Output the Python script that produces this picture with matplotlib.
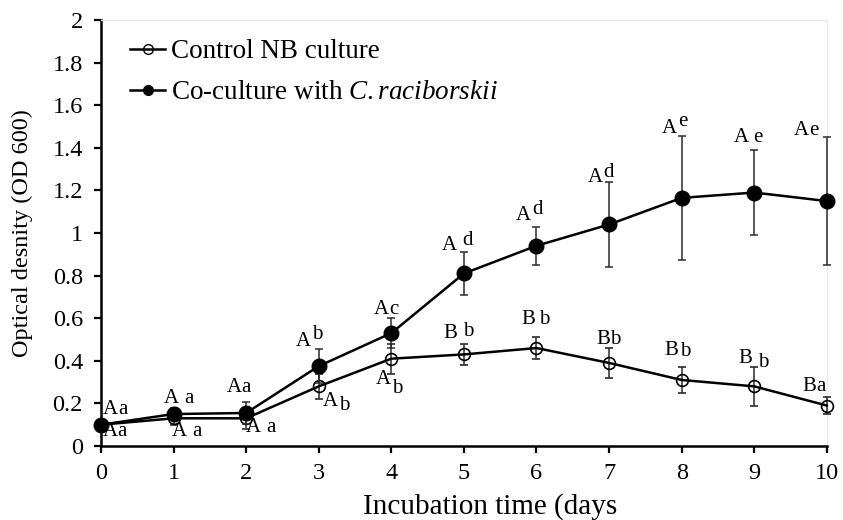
import matplotlib.pyplot as plt
from matplotlib.lines import Line2D
import numpy as np

plt.rcParams['font.family'] = ['Liberation Serif', 'DejaVu Serif']
plt.rcParams['mathtext.fontset'] = 'custom'
plt.rcParams['mathtext.rm'] = 'Liberation Serif'
plt.rcParams['mathtext.it'] = 'Liberation Serif:italic'

days = [0, 1, 2, 3, 4, 5, 6, 7, 8, 9, 10]

control_od = [0.10, 0.13, 0.13, 0.28, 0.41, 0.43, 0.46, 0.39, 0.31, 0.28, 0.19]
control_err = [0.02, 0.03, 0.05, 0.06, 0.07, 0.05, 0.05, 0.07, 0.06, 0.09, 0.04]

cocult_od = [0.10, 0.15, 0.155, 0.375, 0.53, 0.81, 0.94, 1.04, 1.165, 1.19, 1.15]
cocult_err = [0.01, 0.03, 0.05, 0.08, 0.07, 0.10, 0.09, 0.20, 0.29, 0.20, 0.30]

# significance letters: capital + lowercase
cocult_caps = ['A', 'A', 'A', 'A', 'A', 'A', 'A', 'A', 'A', 'A', 'A']
cocult_small = ['a', 'a', 'a', 'b', 'c', 'd', 'd', 'd', 'e', 'e', 'e']
control_caps = ['A', 'A', 'A', 'A', 'A', 'B', 'B', 'B', 'B', 'B', 'B']
control_small = ['a', 'a', 'a', 'b', 'b', 'b', 'b', 'b', 'b', 'b', 'a']

# label placement (data coords) and small-letter gap / rise in points
co_lx = [0.22, 1.09, 1.92, 2.88, 3.95, 4.92, 5.91, 6.90, 7.92, 8.94, 9.74]
co_ly = [0.17, 0.225, 0.277, 0.49, 0.64, 0.94, 1.08, 1.26, 1.49, 1.45, 1.48]
co_gap = [0, 4, 0, 1, 0, 4, 1, 0, 1, 3, 0]
co_rise = [0, 0, 0, 5, 0, 4, 5, 4, 5, 0, 0]
ct_lx = [0.21, 1.20, 2.22, 3.25, 3.98, 4.93, 5.99, 7.00, 7.95, 8.99, 9.83]
ct_ly = [0.07, 0.07, 0.085, 0.21, 0.31, 0.53, 0.596, 0.50, 0.45, 0.41, 0.28]
ct_gap = [0, 4, 4, 1, 1, 4, 3, 0, 1, 4, 0]
ct_rise = [0, 0, 0, -3, -6, 1, 0, 0, -1, -3, 0]

fig = plt.figure(figsize=(8.43, 5.2), dpi=100)
ax = fig.add_axes([0.1198, 0.1423, 0.861, 0.8192])

ctrl = ax.errorbar(days, control_od, yerr=control_err, color='black', marker='o', markersize=8.5,
                   markerfacecolor='none', markeredgecolor='black', markeredgewidth=1.2,
                   linewidth=1.8, ecolor='#2b2b2b', elinewidth=1.1, capsize=2.8, capthick=1.1,
                   zorder=3)
coc = ax.errorbar(days, cocult_od, yerr=cocult_err, color='black', marker='o', markersize=10.5,
                  markerfacecolor='black', linewidth=1.8, ecolor='#2b2b2b', elinewidth=1.1,
                  capsize=2.8, capthick=1.1, zorder=4)
for cont in (ctrl, coc):
    for art in cont.get_children():
        art.set_clip_on(False)


def put_label(x, y, cap, small, gap, rise):
    ax.annotate(cap, (x, y), xytext=(-gap / 2.0 + 1, 0), textcoords='offset points',
                ha='right', va='center', fontsize=15)
    ax.annotate(small, (x, y), xytext=(gap / 2.0 + 1, rise), textcoords='offset points',
                ha='left', va='center', fontsize=15)


for i in range(len(days)):
    put_label(co_lx[i], co_ly[i], cocult_caps[i], cocult_small[i], co_gap[i], co_rise[i])
    put_label(ct_lx[i], ct_ly[i], control_caps[i], control_small[i], ct_gap[i], ct_rise[i])

ax.set_xlim(0, 10)
ax.set_ylim(0, 2)
ax.set_xticks(days)
ax.set_yticks([round(v, 1) for v in np.arange(0, 2.01, 0.2)])
ax.set_yticklabels(['0', '0.2', '0.4', '0.6', '0.8', '1', '1.2', '1.4', '1.6', '1.8', '2'])
ax.tick_params(axis='both', labelsize=17.5, width=1.6, length=5, direction='out')
ax.tick_params(axis='y', pad=8)
ax.tick_params(axis='x', pad=7)

for s in ['left', 'bottom']:
    ax.spines[s].set_linewidth(1.8)
for s in ['top', 'right']:
    ax.spines[s].set_color('#e8e8e8')
    ax.spines[s].set_linewidth(0.8)

ax.set_ylabel('Optical desnity (OD 600)', fontsize=17.5)
ax.yaxis.set_label_coords(-0.094, 0.5)
fig.text(490 / 843, 0.0, 'Incubation time (days', fontsize=21, ha='center', va='bottom')

handles = [
    Line2D([], [], color='black', linewidth=1.8, marker='o', markersize=7,
           markerfacecolor='none', markeredgecolor='black'),
    Line2D([], [], color='black', linewidth=1.8, marker='o', markersize=7,
           markerfacecolor='black'),
]
ax.legend(handles, ['Control NB culture', 'Co-culture with $\\it{C. raciborskii}$'],
          loc='upper left', bbox_to_anchor=(0.04, 0.955), frameon=False, fontsize=19.5,
          handlelength=1.3, handletextpad=0.2, labelspacing=0.6, borderaxespad=0, borderpad=0)

fig.savefig('out.png', dpi=100)
